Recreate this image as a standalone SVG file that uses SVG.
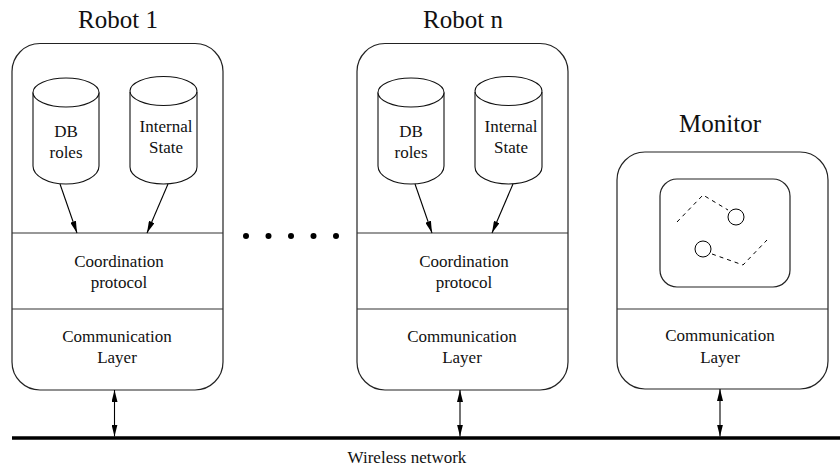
<svg xmlns="http://www.w3.org/2000/svg" width="840" height="473" viewBox="0 0 840 473">
<style>
  .box{fill:#fff;stroke:#222;stroke-width:1.2}
  .sep{stroke:#333;stroke-width:1.2}
  .cyl{fill:#fff;stroke:#111;stroke-width:1.1}
  .t{font-family:"Liberation Serif","Times New Roman",serif;fill:#111;text-anchor:middle}
  .title{font-size:25px}
  .lbl{font-size:17px}
  .arr{stroke:#000;stroke-width:1.1;fill:none}
  .dash{stroke:#000;stroke-width:1;fill:none;stroke-dasharray:4,4}
</style>
<defs>
  <marker id="ah" viewBox="0 0 12 6" refX="12" refY="3" markerWidth="12" markerHeight="6" markerUnits="userSpaceOnUse" orient="auto-start-reverse">
    <path d="M0,0 L12,3 L0,6 Z" fill="#000"/>
  </marker>
</defs>
<rect width="840" height="473" fill="#fff"/>

<g id="robot1">
  <text class="t title" x="118" y="28">Robot 1</text>
  <rect class="box" x="12" y="43.5" width="211" height="346.5" rx="28" ry="28"/>
  <line class="sep" x1="12" y1="233" x2="223" y2="233"/>
  <line class="sep" x1="12" y1="309" x2="223" y2="309"/>
  <g id="robot1-db">
    <path class="cyl" d="M33,92.5 L33,166 A33,18 0 0 0 99,166 L99,92.5"/>
    <ellipse class="cyl" cx="66" cy="92.5" rx="33" ry="14.5"/>
    <text class="t lbl" x="66" y="137">DB</text>
    <text class="t lbl" x="66" y="158">roles</text>
  </g>
  <g id="robot1-state">
    <path class="cyl" d="M130,92 L130,167 A33.5,17 0 0 0 197,167 L197,92"/>
    <ellipse class="cyl" cx="163.5" cy="91" rx="33.5" ry="14.5"/>
    <text class="t lbl" x="166" y="132">Internal</text>
    <text class="t lbl" x="166" y="153">State</text>
  </g>
  <text class="t lbl" x="119" y="267">Coordination</text>
  <text class="t lbl" x="119" y="288">protocol</text>
  <text class="t lbl" x="117" y="342">Communication</text>
  <text class="t lbl" x="117" y="363">Layer</text>
</g>

<g id="robotn">
  <text class="t title" x="463" y="28">Robot n</text>
  <rect class="box" x="357" y="43.5" width="211" height="346.5" rx="28" ry="28"/>
  <line class="sep" x1="357" y1="233" x2="568" y2="233"/>
  <line class="sep" x1="357" y1="309" x2="568" y2="309"/>
  <g id="robotn-db">
    <path class="cyl" d="M378,92.5 L378,166 A33,18 0 0 0 444,166 L444,92.5"/>
    <ellipse class="cyl" cx="411" cy="92.5" rx="33" ry="14.5"/>
    <text class="t lbl" x="411" y="137">DB</text>
    <text class="t lbl" x="411" y="158">roles</text>
  </g>
  <g id="robotn-state">
    <path class="cyl" d="M475,92 L475,167 A33.5,17 0 0 0 542,167 L542,92"/>
    <ellipse class="cyl" cx="508.5" cy="91" rx="33.5" ry="14.5"/>
    <text class="t lbl" x="511" y="132">Internal</text>
    <text class="t lbl" x="511" y="153">State</text>
  </g>
  <text class="t lbl" x="464" y="267">Coordination</text>
  <text class="t lbl" x="464" y="288">protocol</text>
  <text class="t lbl" x="462" y="342">Communication</text>
  <text class="t lbl" x="462" y="363">Layer</text>
</g>

<g id="ellipsis" fill="#000">
  <circle cx="246" cy="236" r="3"/>
  <circle cx="268.5" cy="236" r="3"/>
  <circle cx="291" cy="236" r="3"/>
  <circle cx="313.5" cy="236" r="3"/>
  <circle cx="336" cy="236" r="3"/>
</g>

<g id="monitor">
  <text class="t title" x="720" y="132">Monitor</text>
  <rect class="box" x="617" y="152" width="211" height="237" rx="28" ry="28"/>
  <line class="sep" x1="617" y1="309" x2="828" y2="309"/>
  <rect class="box" x="660" y="179" width="130" height="108" rx="17" ry="17"/>
  <circle cx="736" cy="217" r="8" fill="#fff" stroke="#000" stroke-width="1"/>
  <circle cx="703" cy="249" r="8" fill="#fff" stroke="#000" stroke-width="1"/>
  <polyline class="dash" points="677,222 703,195 728,210"/>
  <polyline class="dash" points="712,254 743,265 767,240"/>
  <text class="t lbl" x="720" y="341">Communication</text>
  <text class="t lbl" x="720" y="363">Layer</text>
</g>

<g id="network">
  <line x1="12" y1="438" x2="840" y2="438" stroke="#000" stroke-width="3.5"/>
  <text class="t lbl" x="407" y="463">Wireless network</text>
</g>

<g id="connectors">
  <line class="arr" x1="60" y1="184" x2="77" y2="233" marker-end="url(#ah)"/>
  <line class="arr" x1="168" y1="184" x2="147" y2="233" marker-end="url(#ah)"/>
  <line class="arr" x1="415" y1="184" x2="432" y2="233" marker-end="url(#ah)"/>
  <line class="arr" x1="513" y1="184" x2="492" y2="233" marker-end="url(#ah)"/>
  <line class="arr" x1="114.5" y1="390" x2="114.5" y2="436.5" marker-start="url(#ah)" marker-end="url(#ah)"/>
  <line class="arr" x1="460" y1="390" x2="460" y2="436.5" marker-start="url(#ah)" marker-end="url(#ah)"/>
  <line class="arr" x1="720" y1="389" x2="720" y2="436.5" marker-start="url(#ah)" marker-end="url(#ah)"/>
</g>
</svg>
